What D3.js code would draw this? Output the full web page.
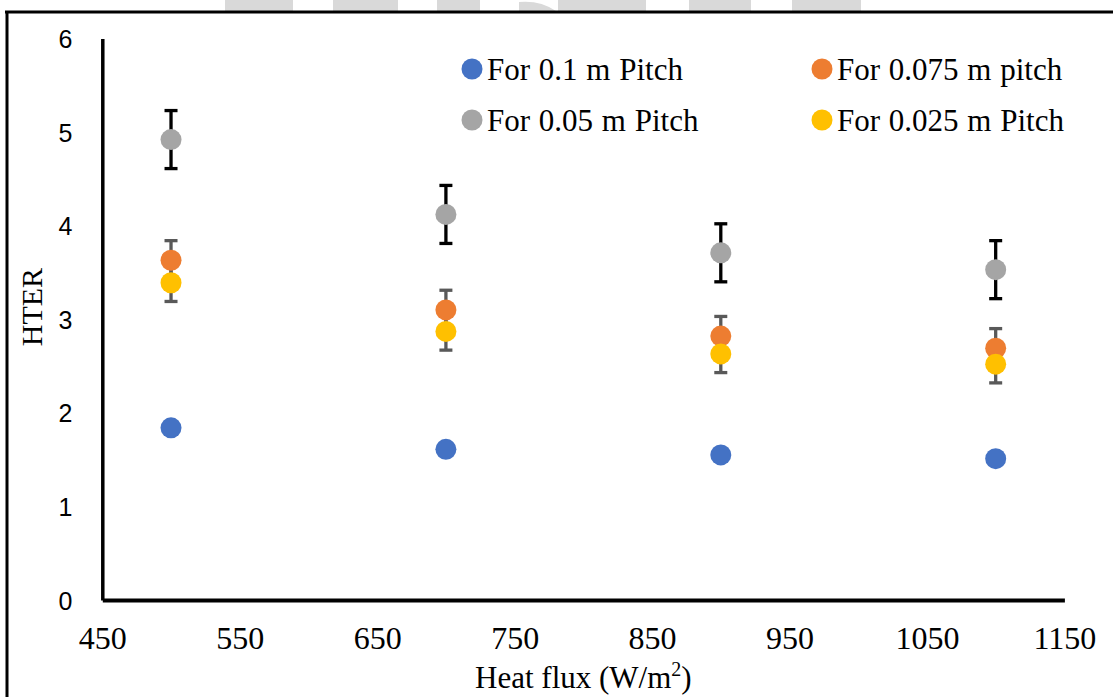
<!DOCTYPE html>
<html>
<head>
<meta charset="utf-8">
<script src="https://cdn.jsdelivr.net/npm/d3@7"></script>
<style>
  html, body { margin: 0; padding: 0; background: #fff; }
  svg { display: block; }
</style>
</head>
<body>
<div id="chart"></div>
<script>
// data
const heatFlux = [500, 700, 900, 1100]
const pitch01 = [1.84, 1.61, 1.55, 1.51]
const pitch0075 = [3.63, 3.10, 2.82, 2.69]
const pitch005 = [4.92, 4.12, 3.71, 3.53]
const pitch0025 = [3.39, 2.87, 2.63, 2.52]
const err0075 = [0.21, 0.21, 0.21, 0.21]
const err005 = [0.31, 0.31, 0.31, 0.31]
const err0025 = [0.20, 0.20, 0.20, 0.20]
const seriesNames = ["For 0.1 m Pitch", "For 0.075 m pitch", "For 0.05 m Pitch", "For 0.025 m Pitch"]
const xTicks = [450, 550, 650, 750, 850, 950, 1050, 1150]
const yTicks = [0, 1, 2, 3, 4, 5, 6]

const width = 1113
const height = 697

const series = [
  { name: seriesNames[0], values: pitch01, err: null, color: "#4472C4", barColor: null },
  { name: seriesNames[1], values: pitch0075, err: err0075, color: "#ED7D31", barColor: "#595959" },
  { name: seriesNames[2], values: pitch005, err: err005, color: "#A5A5A5", barColor: "#000000" },
  { name: seriesNames[3], values: pitch0025, err: err0025, color: "#FFC000", barColor: "#595959" }
]

const svg = d3.select("#chart")
  .append("svg")
  .attr("width", width)
  .attr("height", height)

// faint watermark fragments at the top edge
const watermark = [[225, 293], [333, 398], [437, 480], [558, 646], [689, 751], [792, 861]]
svg.append("g").selectAll("rect")
  .data(watermark)
  .enter()
  .append("rect")
  .attr("x", d => d[0])
  .attr("y", 0)
  .attr("width", d => d[1] - d[0])
  .attr("height", 11)
  .attr("fill", "#d9d9d9")
svg.append("path")
  .attr("d", "M519,11 L519,2 Q540,0 556,11 Z")
  .attr("fill", "#d9d9d9")

// page frame
svg.append("line").attr("x1", 5).attr("x2", width).attr("y1", 12).attr("y2", 12)
  .attr("stroke", "#000").attr("stroke-width", 3)
svg.append("line").attr("x1", 7).attr("x2", 7).attr("y1", 11).attr("y2", height)
  .attr("stroke", "#000").attr("stroke-width", 3)

const x = d3.scaleLinear().domain([450, 1150]).range([102.3, 1064.4])
const y = d3.scaleLinear().domain([0, 6]).range([600, 38.5])

// axes
const yAxis = svg.append("g")
  .attr("transform", `translate(${x(450)},0)`)
  .call(d3.axisLeft(y).tickValues(yTicks).tickSize(0).tickPadding(30).tickFormat(d3.format("d")))
yAxis.select(".domain").attr("stroke", "#000").attr("stroke-width", 3.5)
yAxis.selectAll("text")
  .attr("font-family", "'Liberation Sans', Arial, sans-serif")
  .attr("font-size", 25)
  .attr("fill", "#000")
  .attr("dy", "0.36em")

const xAxis = svg.append("g")
  .attr("transform", `translate(0,${y(0)})`)
  .call(d3.axisBottom(x).tickValues(xTicks).tickSize(0).tickPadding(26).tickFormat(d3.format("d")))
xAxis.select(".domain").attr("stroke", "#000").attr("stroke-width", 4)
xAxis.selectAll("text")
  .attr("font-family", "'Liberation Serif', 'Times New Roman', serif")
  .attr("font-size", 32)
  .attr("fill", "#000")

// axis titles
svg.append("text")
  .attr("transform", `translate(42,${y(3.13)}) rotate(-90)`)
  .attr("text-anchor", "middle")
  .attr("font-family", "'Liberation Serif', 'Times New Roman', serif")
  .attr("font-size", 30)
  .text("HTER")

const xTitle = svg.append("text")
  .attr("x", (x(450) + x(1150)) / 2)
  .attr("y", 688)
  .attr("text-anchor", "middle")
  .attr("font-family", "'Liberation Serif', 'Times New Roman', serif")
  .attr("font-size", 31)
xTitle.append("tspan").text("Heat flux (W/m")
xTitle.append("tspan").attr("font-size", 20).attr("dy", -12).text("2")
xTitle.append("tspan").attr("dy", 12).text(")")

// error bars, drawn beneath the markers
const bars = svg.append("g")
series.filter(s => s.err).forEach(s => {
  const g = bars.append("g").attr("stroke", s.barColor).attr("stroke-width", 3.3)
  const pts = heatFlux.map((h, i) => ({ h, v: s.values[i], e: s.err[i] }))
  g.selectAll(".stem").data(pts).enter().append("line")
    .attr("x1", d => x(d.h)).attr("x2", d => x(d.h))
    .attr("y1", d => y(d.v + d.e)).attr("y2", d => y(d.v - d.e))
  g.selectAll(".capTop").data(pts).enter().append("line")
    .attr("x1", d => x(d.h) - 6.5).attr("x2", d => x(d.h) + 6.5)
    .attr("y1", d => y(d.v + d.e)).attr("y2", d => y(d.v + d.e))
  g.selectAll(".capBot").data(pts).enter().append("line")
    .attr("x1", d => x(d.h) - 6.5).attr("x2", d => x(d.h) + 6.5)
    .attr("y1", d => y(d.v - d.e)).attr("y2", d => y(d.v - d.e))
})

// markers
series.forEach(s => {
  svg.append("g").selectAll("circle")
    .data(heatFlux.map((h, i) => ({ h, v: s.values[i] })))
    .enter()
    .append("circle")
    .attr("cx", d => x(d.h))
    .attr("cy", d => y(d.v))
    .attr("r", 10.5)
    .attr("fill", s.color)
})

// legend, two columns
const legend = svg.append("g")
const items = legend.selectAll("g")
  .data(series)
  .enter()
  .append("g")
  .attr("transform", (d, i) => `translate(${i % 2 === 0 ? 472 : 822},${i < 2 ? 69 : 120})`)
items.append("circle").attr("r", 10.5).attr("fill", d => d.color)
items.append("text")
  .attr("x", 15)
  .attr("dy", "0.35em")
  .attr("font-family", "'Liberation Serif', 'Times New Roman', serif")
  .attr("font-size", 31)
  .attr("word-spacing", 1)
  .text(d => d.name)
</script>
</body>
</html>
